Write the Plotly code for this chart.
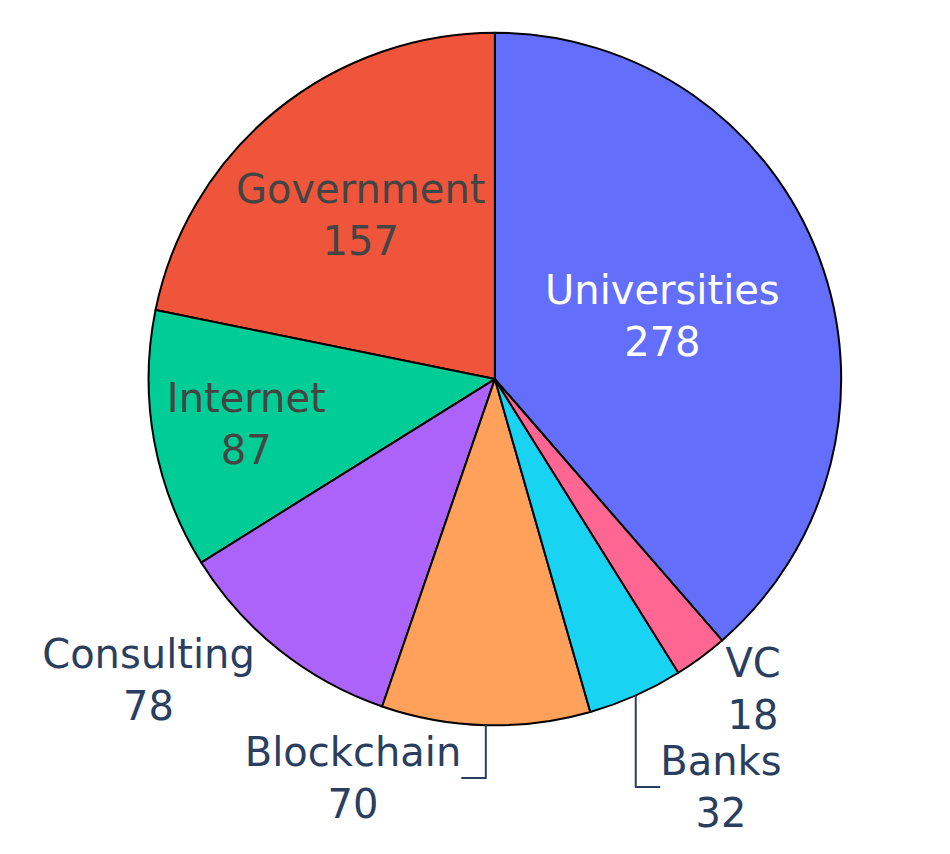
import plotly.graph_objects as go

labels = ["Universities", "Government", "Internet", "Consulting", "Blockchain", "Banks", "VC"]
values = [278, 157, 87, 78, 70, 32, 18]
positions = ["inside", "inside", "inside", "outside", "outside", "outside", "outside"]

fig = go.Figure(go.Pie(
    labels=labels,
    values=values,
    textinfo="label+value",
    textposition=positions,
    marker=dict(line=dict(color="black", width=2)),
    domain=dict(x=[0.086, 0.886], y=[0.160, 0.971]),
))
fig.update_layout(
    width=950, height=854,
    font=dict(family="DejaVu Sans", size=40),
    showlegend=False,
    margin=dict(l=0, r=0, t=0, b=0),
    paper_bgcolor="white",
)
fig.write_html("out.html")
